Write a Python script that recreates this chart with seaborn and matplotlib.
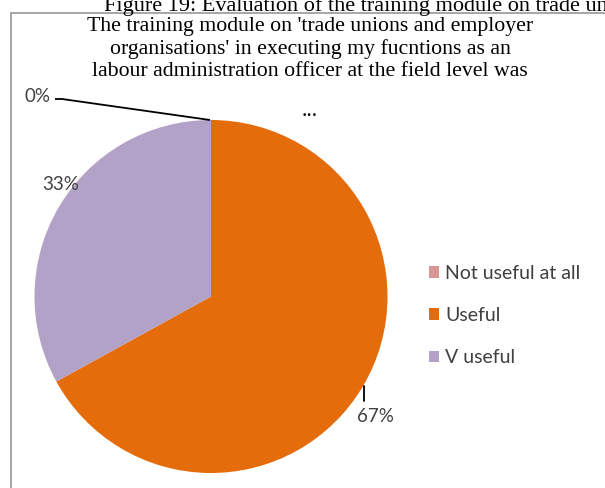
import matplotlib
matplotlib.use("Agg")
import matplotlib.pyplot as plt
from matplotlib.patches import Rectangle
import seaborn as sns

# Survey responses (share of respondents, %)
categories = ["Not useful at all", "Useful", "V useful"]
shares = [0, 67, 33]
colors = ["#D99694", "#E46C0A", "#B3A2C7"]

caption = "Figure 19: Evaluation of the training module on trade unions and employer organisations"
title_lines = [
    "The training module on 'trade unions and employer",
    "organisations' in executing my fucntions as an",
    "labour administration officer at the field level was",
    "...",
]

sns.set_theme(style="white")
plt.rcParams["font.family"] = ["Lato", "DejaVu Sans"]

W, H = 605, 488
fig = plt.figure(figsize=(W / 100, H / 100), dpi=100)
fig.patch.set_facecolor("white")

# pie centre and radius in pixels
cx, cy, R = 211, 296.5, 176.5
ax = fig.add_axes([0, 0, 1, 1])

def px(x, y):
    """pixel position (from top-left) -> data coordinates"""
    return (x - cx) / R, (cy - y) / R

wedges, _ = ax.pie(shares, colors=colors, startangle=90, counterclock=False,
                   radius=1, wedgeprops=dict(linewidth=0))
ax.set_xlim(-cx / R, (W - cx) / R)
ax.set_ylim((cy - H) / R, cy / R)
ax.set_aspect("equal")
ax.axis("off")

# chart frame
fig.patches.append(Rectangle((11 / W, -0.1), 1.2, (H - 13) / H + 0.1,
                             transform=fig.transFigure, fill=False,
                             edgecolor="#A6A6A6", linewidth=1.4))

# document caption above the chart frame (clipped by the page)
fig.text(104 / W, 1 - 11 / H, caption, fontsize=16, family="Liberation Serif",
         ha="left", va="baseline", color="black")

# chart title
for i, line in enumerate(title_lines):
    y = [26, 49, 72, 112][i]
    fig.text(310 / W, 1 - y / H, line, fontsize=15.7, family="Liberation Serif",
             ha="center", va="center", color="black")

# data labels
label_color = "#404040"
ax.plot(*zip(px(55, 99), px(62, 99), px(210, 120)), color="black", lw=1.3,
        solid_capstyle="butt")
ax.text(*px(37, 96), f"{shares[0]}%", fontsize=13.5, ha="center", va="center",
        color=label_color)
ax.text(*px(61, 184), f"{shares[2]}%", fontsize=13.5, ha="center", va="center",
        color=label_color)
ax.plot(*zip(px(364, 386), px(364, 401)), color="black", lw=1.3)
ax.text(*px(375, 417), f"{shares[1]}%", fontsize=13.5, ha="center", va="center",
        color=label_color)

# legend
leg = ax.legend(wedges, categories, loc="upper left",
                bbox_to_anchor=(419 / W, 1 - 255 / H),
                bbox_transform=fig.transFigure, frameon=False, fontsize=14,
                handlelength=0.55, handleheight=0.55, handletextpad=0.3,
                labelspacing=1.3, borderpad=0)
for t in leg.get_texts():
    t.set_color("#404040")

fig.savefig("out.png", dpi=100)
